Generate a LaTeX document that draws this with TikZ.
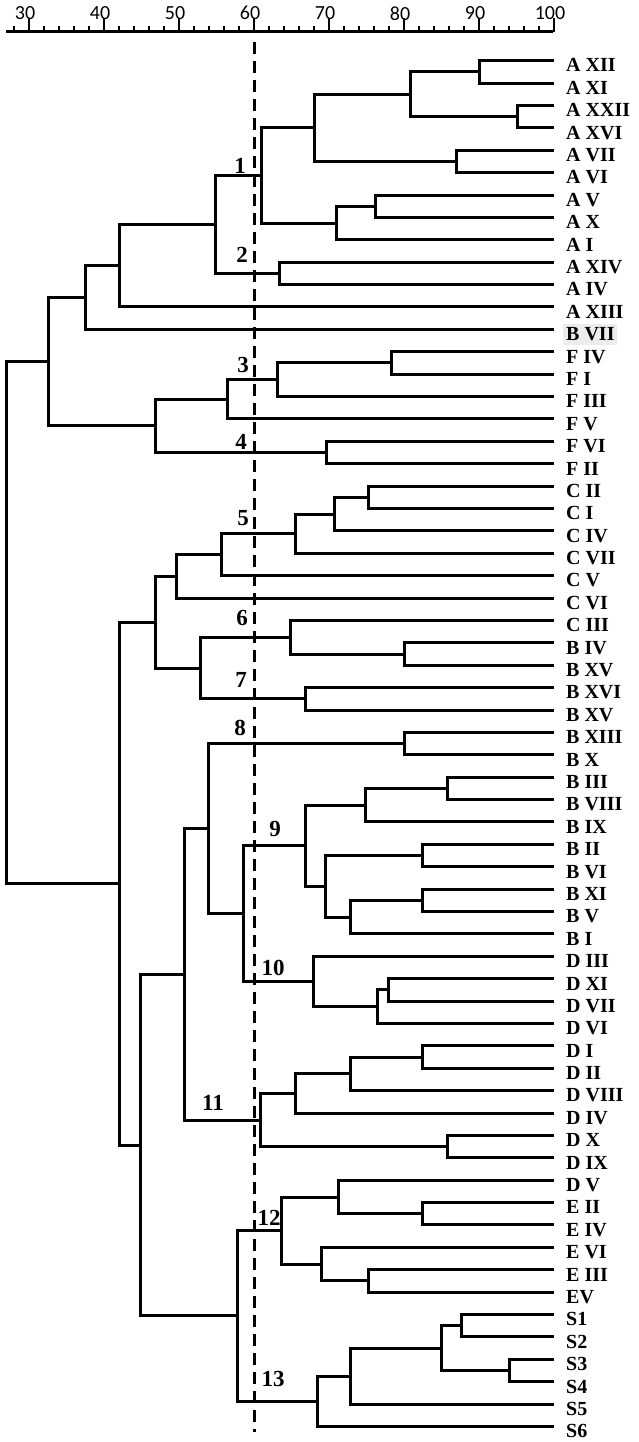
\documentclass[tikz,border=0pt]{standalone}
\usepackage{fontspec}
\setmainfont{Liberation Serif}
\newfontfamily\axisfont{Carlito}
\usetikzlibrary{calc}
\tikzset{
 br/.style={line width=3pt, line join=miter},
 cut/.style={line width=3pt, dash pattern=on 12pt off 7pt},
 axisline/.style={line width=3pt},
 majtick/.style={line width=1.6pt},
 mintick/.style={line width=2pt},
 axnum/.style={font=\axisfont\fontsize{20}{20}\selectfont, inner sep=0pt},
 leaf/.style={font=\fontsize{20}{22}\selectfont\bfseries, anchor=base west, inner sep=0pt},
 cnum/.style={font=\fontsize{23}{23}\selectfont\bfseries, inner sep=0pt},
}
\newcommand\mrg[4]{%
 \path let \p1=($(#3)!.5!(#4)$) in ({(29+7.5*(#2-30))*1pt},\y1) coordinate (#1);
 \draw[br] (#3) -| (#1) |- (#4);
}
\begin{document}
\begin{tikzpicture}[x=1pt,y=1pt]
\useasboundingbox (0,0) rectangle (638,-1442);
% axis
\coordinate (ax0) at (6,-32);
\coordinate (ax1) at (553,-32);
\foreach \v in {28,30,...,98} {
  \draw[mintick] ({29+7.5*(\v-30)},-32) -- ({29+7.5*(\v-30)},-26);
}
\foreach \v in {30,40,...,100} {
  \draw[majtick] ({29+7.5*(\v-30)},-32) -- ({29+7.5*(\v-30)},-18);
  \node[axnum] (num\v) at ({29+7.5*(\v-30)-4},-13.3) {\v};
}
\draw[axisline] (ax0) -- (ax1);
% highlight behind B VII
\fill[gray!15] (563,-324) rectangle (617,-345);
% leaves
\foreach \lab [count=\i from 0] in {A XII,A XI,A XXII,A XVI,A VII,A VI,A V,A X,A I,A XIV,A IV,A XIII,B VII,F IV,F I,F III,F V,F VI,F II,C II,C I,C IV,C VII,C V,C VI,C III,B IV,B XV,B XVI,B XV,B XIII,B X,B III,B VIII,B IX,B II,B VI,B XI,B V,B I,D III,D XI,D VII,D VI,D I,D II,D VIII,D IV,D X,D IX,D V,E II,E IV,E VI,E III,EV,S1,S2,S3,S4,S5,S6} {
  \coordinate (l\i) at (554,{-(60.7+22.39*\i)});
  \node[leaf] (t\i) at (566,{-(60.7+22.39*\i+11.3)}) {\lab};
}
% A group
\mrg{na1}{90.0}{l0}{l1}
\mrg{na2}{95.1}{l2}{l3}
\mrg{na3}{80.8}{na1}{na2}
\mrg{na4}{87.0}{l4}{l5}
\mrg{na5}{68.0}{na3}{na4}
\mrg{na6}{76.2}{l6}{l7}
\mrg{na7}{71.0}{na6}{l8}
\mrg{na8}{61.0}{na5}{na7}
\mrg{na9}{63.4}{l9}{l10}
\mrg{na10}{54.8}{na8}{na9}
\mrg{na11}{42.05}{na10}{l11}
\mrg{na12}{37.5}{na11}{l12}
% F group
\mrg{nf1}{78.3}{l13}{l14}
\mrg{nf2}{63.1}{nf1}{l15}
\mrg{nf3}{56.4}{nf2}{l16}
\mrg{nf4}{69.6}{l17}{l18}
\mrg{nf5}{46.9}{nf3}{nf4}
\mrg{ntop}{32.6}{na12}{nf5}
% C group
\mrg{nc1}{75.2}{l19}{l20}
\mrg{nc2}{70.7}{nc1}{l21}
\mrg{nc3}{65.5}{nc2}{l22}
\mrg{nc4}{55.7}{nc3}{l23}
\mrg{nc5}{49.6}{nc4}{l24}
\mrg{nb1}{80.05}{l26}{l27}
\mrg{nb2}{64.8}{l25}{nb1}
\mrg{nb3}{66.8}{l28}{l29}
\mrg{nb4}{52.8}{nb2}{nb3}
\mrg{nc6}{46.9}{nc5}{nb4}
% B group
\mrg{nb5}{80.05}{l30}{l31}
\mrg{nb6}{85.8}{l32}{l33}
\mrg{nb7}{74.9}{nb6}{l34}
\mrg{nb8}{82.4}{l35}{l36}
\mrg{nb9}{82.4}{l37}{l38}
\mrg{nb10}{72.9}{nb9}{l39}
\mrg{nb11}{69.5}{nb8}{nb10}
\mrg{nb12}{66.9}{nb7}{nb11}
% D group
\mrg{nd1}{77.9}{l41}{l42}
\mrg{nd2}{76.5}{nd1}{l43}
\mrg{nd3}{67.9}{l40}{nd2}
\mrg{nb13}{58.6}{nb12}{nd3}
\mrg{nb14}{53.95}{nb5}{nb13}
\mrg{nd4}{82.4}{l44}{l45}
\mrg{nd5}{72.8}{nd4}{l46}
\mrg{nd6}{65.5}{nd5}{l47}
\mrg{nd7}{85.8}{l48}{l49}
\mrg{nd8}{60.8}{nd6}{nd7}
\mrg{ng1}{50.7}{nb14}{nd8}
% E group
\mrg{ne1}{82.4}{l51}{l52}
\mrg{ne2}{71.2}{l50}{ne1}
\mrg{ne3}{75.2}{l54}{l55}
\mrg{ne4}{69.0}{l53}{ne3}
\mrg{ne5}{63.7}{ne2}{ne4}
% S group
\mrg{ns1}{87.6}{l56}{l57}
\mrg{ns2}{94.1}{l58}{l59}
\mrg{ns3}{85.0}{ns1}{ns2}
\mrg{ns4}{72.8}{ns3}{l60}
\mrg{ns5}{68.4}{ns4}{l61}
\mrg{nes}{57.8}{ne5}{ns5}
\mrg{nlow}{44.8}{ng1}{nes}
\mrg{nmid}{42.05}{nc6}{nlow}
\mrg{root}{27.0}{ntop}{nmid}
% cut line
\coordinate (dtop) at (254,-42);
\coordinate (dbot) at (254,-1432);
\draw[cut] (dtop) -- (dbot);
% cluster numbers
\node[cnum] (k1) at (240,-166) {1};
\node[cnum] (k2) at (242,-255) {2};
\node[cnum] (k3) at (243,-365) {3};
\node[cnum] (k4) at (241,-442) {4};
\node[cnum] (k5) at (243,-518) {5};
\node[cnum] (k6) at (242,-618) {6};
\node[cnum] (k7) at (241,-680) {7};
\node[cnum] (k8) at (240,-728) {8};
\node[cnum] (k9) at (275,-829) {9};
\node[cnum] (k10) at (273,-968) {10};
\node[cnum] (k11) at (213,-1103) {11};
\node[cnum] (k12) at (269,-1218) {12};
\node[cnum] (k13) at (273,-1379) {13};
\end{tikzpicture}
\end{document}
